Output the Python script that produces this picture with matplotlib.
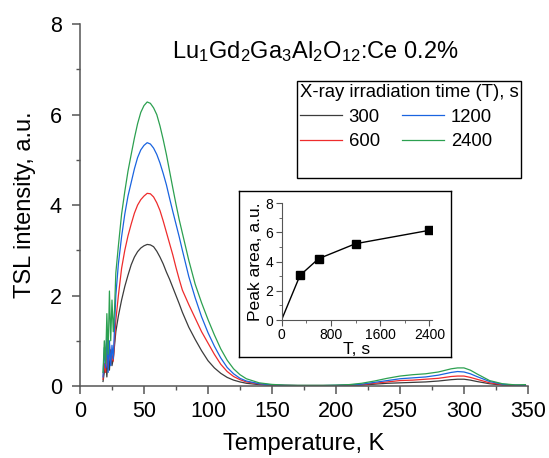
# ================================ Imports ================================ #

import matplotlib
matplotlib.use("Agg")
import matplotlib.pyplot as plt
from matplotlib.lines import Line2D
from matplotlib.ticker import MultipleLocator

plt.rcParams['font.family'] = ['Liberation Sans', 'DejaVu Sans']
plt.rcParams['mathtext.default'] = 'regular'

# ================================ Data ================================ #

temp = [18, 19, 20, 21, 22, 23, 24, 25, 26, 27,
        28, 30, 32.5, 35, 37.5, 40, 42.5, 45, 47.5, 50, 52.5, 55, 57.5, 60,
        62.5, 65, 67.5, 70, 72.5, 75, 77.5, 80, 85, 90, 95, 100, 105, 110,
        115, 120, 125, 130, 140, 150, 160, 170, 180, 190, 200, 210, 220, 230,
        240, 250, 260, 270, 280, 290, 295, 300, 305, 310, 320, 330, 340, 348]

tsl_300 = [0.1, 0.3, 0.55, 0.2, 0.7, 0.35, 0.8, 0.45, 0.6, 0.9,
           1.2, 1.55, 1.9, 2.2, 2.45, 2.68, 2.85, 2.97, 3.05, 3.1, 3.13, 3.12, 3.08, 2.98,
           2.85, 2.7, 2.52, 2.36, 2.18, 2.0, 1.82, 1.63, 1.3, 1.03, 0.78, 0.56, 0.4, 0.28,
           0.19, 0.13, 0.09, 0.06, 0.03, 0.015, 0.01, 0.01, 0.01, 0.01, 0.01, 0.015, 0.02, 0.04,
           0.06, 0.07, 0.08, 0.09, 0.11, 0.14, 0.15, 0.15, 0.13, 0.1, 0.05, 0.02, 0.01, 0.01]

tsl_600 = [0.15, 0.5, 0.3, 0.8, 0.4, 0.9, 0.5, 0.7, 0.55, 1.0,
           1.45, 2.0, 2.6, 3.0, 3.32, 3.58, 3.82, 4.0, 4.12, 4.2, 4.26, 4.25, 4.18, 4.05,
           3.88, 3.65, 3.4, 3.15, 2.9, 2.62, 2.36, 2.12, 1.8, 1.5, 1.2, 0.95, 0.7, 0.48,
           0.32, 0.21, 0.14, 0.09, 0.045, 0.02, 0.015, 0.01, 0.01, 0.01, 0.01, 0.02, 0.03, 0.06,
           0.09, 0.12, 0.13, 0.15, 0.17, 0.21, 0.22, 0.22, 0.19, 0.15, 0.07, 0.03, 0.015, 0.01]

tsl_1200 = [0.2, 0.85, 0.4, 1.2, 0.3, 1.0, 0.45, 0.9, 0.6, 1.3,
            2.0, 2.7, 3.3, 3.8, 4.2, 4.5, 4.8, 5.05, 5.22, 5.32, 5.38, 5.35, 5.26, 5.12,
            4.93, 4.7, 4.45, 4.15, 3.86, 3.58, 3.3, 3.0, 2.42, 1.95, 1.53, 1.18, 0.88, 0.62,
            0.41, 0.27, 0.17, 0.11, 0.05, 0.025, 0.015, 0.01, 0.01, 0.01, 0.015, 0.025, 0.04, 0.08,
            0.12, 0.16, 0.18, 0.2, 0.24, 0.3, 0.32, 0.31, 0.27, 0.21, 0.1, 0.04, 0.02, 0.01]

tsl_2400 = [0.3, 1.0, 0.5, 1.6, 0.7, 2.1, 1.0, 1.9, 1.2, 1.7,
            2.5, 3.1, 3.8, 4.3, 4.75, 5.12, 5.48, 5.8, 6.05, 6.2, 6.28, 6.25, 6.15, 6.0,
            5.75, 5.45, 5.12, 4.75, 4.38, 4.02, 3.68, 3.38, 2.78, 2.25, 1.84, 1.47, 1.13, 0.82,
            0.57, 0.38, 0.25, 0.16, 0.07, 0.035, 0.02, 0.015, 0.015, 0.015, 0.02, 0.03, 0.06, 0.11,
            0.17, 0.22, 0.25, 0.27, 0.31, 0.38, 0.4, 0.4, 0.35, 0.27, 0.12, 0.05, 0.025, 0.03]

series_labels = ['300', '600', '1200', '2400']
series_colors = ['#3c3c3c', '#ee2c2c', '#1a64e0', '#2ca050']

irr_time = [0, 300, 600, 1200, 2400]
peak_area = [0, 3.06, 4.2, 5.23, 6.15]

# ================================ Main plot ================================ #

fig = plt.figure(figsize=(5.49, 4.58), dpi=100)
ax = fig.add_axes([0.1457, 0.1572, 0.816, 0.790])

lines = []
for vals, lab, col in zip([tsl_300, tsl_600, tsl_1200, tsl_2400], series_labels, series_colors):
    ln, = ax.plot(temp, vals, color=col, lw=0.9, label=lab)
    lines.append(ln)

ax.set_xlim(0, 350)
ax.set_ylim(0, 8)
ax.xaxis.set_major_locator(MultipleLocator(50))
ax.xaxis.set_minor_locator(MultipleLocator(25))
ax.yaxis.set_major_locator(MultipleLocator(2))
ax.yaxis.set_minor_locator(MultipleLocator(1))
for s in ['top', 'right']:
    ax.spines[s].set_visible(False)
for s in ['left', 'bottom']:
    ax.spines[s].set_color('#555555')
    ax.spines[s].set_linewidth(1.1)
ax.tick_params(which='both', direction='out', colors='#555555', labelcolor='black')
ax.tick_params(which='major', length=6, width=1.1, labelsize=15.5)
ax.tick_params(which='minor', length=3, width=1.0)
ax.tick_params(axis='x', pad=5)
ax.tick_params(axis='y', pad=7)
ax.set_xlabel('Temperature, K', fontsize=17, labelpad=8)
ax.set_ylabel('TSL intensity, a.u.', fontsize=17, labelpad=10)

ax.text(0.525, 0.923, r'Lu$_1$Gd$_2$Ga$_3$Al$_2$O$_{12}$:Ce 0.2%',
        transform=ax.transAxes, ha='center', va='center', fontsize=17)

# ================================ Legend ================================ #

blank = Line2D([], [], color='none')
handles = [lines[0], lines[1], blank, lines[2], lines[3], blank]
labels = ['300', '600', '', '1200', '2400', '']
leg = ax.legend(handles, labels, ncol=2, title='X-ray irradiation time (T), s',
                loc='upper left', bbox_to_anchor=(296.8 / 549, 1 - 81 / 458),
                bbox_transform=fig.transFigure, borderaxespad=0,
                fontsize=13.3, title_fontsize=13.3, frameon=True, fancybox=False,
                edgecolor='black', framealpha=1, borderpad=0.15,
                handlelength=2.3, handletextpad=0.35, columnspacing=1.2,
                labelspacing=0.42, alignment='left')
leg.get_frame().set_linewidth(1.0)

# ================================ Inset ================================ #

box = fig.add_axes([0.4348, 0.2199, 0.3874, 0.3637], zorder=2)
box.set_xticks([])
box.set_yticks([])
for s in box.spines.values():
    s.set_color('black')
    s.set_linewidth(1.0)

ins = fig.add_axes([0.5128, 0.3013, 0.274, 0.2548], zorder=3)
ins.patch.set_alpha(0)
ins.plot(irr_time, peak_area, color='black', lw=1.0)
ins.plot(irr_time[1:], peak_area[1:], 's', color='black', ms=5.5)
ins.set_xlim(0, 2440)
ins.set_ylim(0, 8)
ins.xaxis.set_major_locator(MultipleLocator(800))
ins.xaxis.set_minor_locator(MultipleLocator(400))
ins.yaxis.set_major_locator(MultipleLocator(2))
ins.yaxis.set_minor_locator(MultipleLocator(1))
for s in ['top', 'right']:
    ins.spines[s].set_visible(False)
for s in ['left', 'bottom']:
    ins.spines[s].set_color('#555555')
ins.tick_params(which='both', direction='out', colors='#555555', labelcolor='black')
ins.tick_params(which='major', length=4, labelsize=10, pad=2)
ins.tick_params(which='minor', length=2)
ins.set_xlabel('T, s', fontsize=12.6, labelpad=0)
ins.set_ylabel('Peak area, a.u.', fontsize=12.6, labelpad=2)

fig.savefig('out.png', dpi=100)
